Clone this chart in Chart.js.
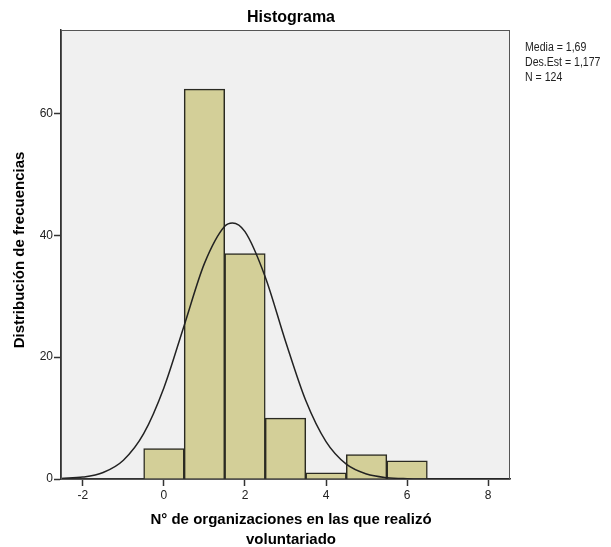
<!DOCTYPE html>
<html>
<head>
<meta charset="utf-8">
<script src="https://cdn.jsdelivr.net/npm/chart.js@4.4.1/dist/chart.umd.min.js"></script>
<style>
html,body{margin:0;padding:0;background:#fff;}
#wrap{width:611px;height:547px;position:relative;}
</style>
</head>
<body>
<div id="wrap"><canvas id="c" width="611" height="547"></canvas></div>
<script>
// Histogram bins (bin centres) and frequencies
const binCenters = [0, 1, 2, 3, 4, 5, 6];
const frequencies = [5, 64, 37, 10, 1, 4, 3];
// Normal curve
const curveX = [-2.54, -2, -1.5, -1, -0.5, 0, 0.5, 1, 1.5, 1.69, 2, 2.5, 3, 3.5, 4, 4.5, 5, 5.5, 6, 6.5, 7, 7.5, 8, 8.54];
const curveY = [0.1, 0.31, 1.07, 3.09, 7.44, 14.99, 25.21, 35.39, 41.49, 42.03, 40.6, 33.17, 22.62, 12.88, 6.13, 2.43, 0.81, 0.22, 0.05, 0.01, 0, 0, 0, 0];
const xTicks = [-2, 0, 2, 4, 6, 8];
const yTicks = [0, 20, 40, 60];
const statsLines = ['Media = 1,69', 'Des.Est = 1,177', 'N = 124'];
const chartTitle = 'Histograma';
const yTitle = 'Distribución de frecuencias';
const xTitle = ['N° de organizaciones en las que realizó', 'voluntariado'];

const textPlugin = {
  id: 'texts',
  beforeDraw(chart) {
    const {ctx, chartArea: a} = chart;
    ctx.save();
    ctx.fillStyle = '#F0F0F0';
    ctx.fillRect(a.left, a.top, a.right - a.left, a.bottom - a.top);
    ctx.restore();
  },
  afterDraw(chart) {
    const {ctx, chartArea: a} = chart;
    ctx.save();
    ctx.strokeStyle = '#555';
    ctx.lineWidth = 1;
    ctx.strokeRect(a.left + 0.5, a.top + 0.5, a.right - a.left - 1, a.bottom - a.top);
    ctx.fillStyle = '#000';
    ctx.textAlign = 'center';
    ctx.textBaseline = 'middle';
    ctx.font = 'bold 16px "Liberation Sans", Arial, sans-serif';
    ctx.fillText(chartTitle, 291, 18);
    ctx.font = 'bold 15px "Liberation Sans", Arial, sans-serif';
    ctx.fillText(xTitle[0], 291, 520);
    ctx.fillText(xTitle[1], 291, 540);
    ctx.save();
    ctx.translate(20, 250);
    ctx.rotate(-Math.PI / 2);
    ctx.fillText(yTitle, 0, 0);
    ctx.restore();
    ctx.textAlign = 'left';
    ctx.fillStyle = '#222';
    ctx.font = '12px "Liberation Sans", Arial, sans-serif';
    ctx.save();
    ctx.translate(525, 0);
    ctx.scale(0.88, 1);
    statsLines.forEach((s, i) => ctx.fillText(s, 0, 48 + i * 15));
    ctx.restore();
    ctx.restore();
  }
};

new Chart(document.getElementById('c'), {
  data: {
    datasets: [
      {
        type: 'line',
        data: curveX.map((x, i) => ({x, y: curveY[i]})),
        borderColor: '#222',
        borderWidth: 1.5,
        pointRadius: 0,
        cubicInterpolationMode: 'monotone',
        fill: false,
        order: 0
      },
      {
        type: 'bar',
        data: binCenters.map((x, i) => ({x, y: frequencies[i]})),
        backgroundColor: '#D3CF98',
        borderColor: '#2a2a22',
        borderWidth: 1.5,
        barPercentage: 1,
        categoryPercentage: 1,
        grouped: false,
        order: 1
      }
    ]
  },
  options: {
    responsive: false,
    animation: false,
    events: [],
    layout: {padding: {left: 0, right: 101, top: 30, bottom: 0}},
    plugins: {legend: {display: false}, tooltip: {enabled: false}, title: {display: false}},
    scales: {
      x: {
        type: 'linear',
        offset: false,
        min: -2.54,
        max: 8.54,
        afterBuildTicks: s => { s.ticks = xTicks.map(v => ({value: v})); },
        afterFit: s => { s.height = 68; },
        grid: {display: true, offset: false, drawOnChartArea: false, drawTicks: true, tickLength: 7, color: '#333', tickWidth: 1.5},
        border: {display: true, color: '#333', width: 1.5},
        ticks: {color: '#222', font: {size: 12, family: '"Liberation Sans", Arial, sans-serif'}, padding: 2, maxRotation: 0}
      },
      y: {
        type: 'linear',
        min: 0,
        max: 73.7,
        afterBuildTicks: s => { s.ticks = yTicks.map(v => ({value: v})); },
        afterFit: s => { s.width = 61; },
        grid: {display: true, drawOnChartArea: false, drawTicks: true, tickLength: 7, color: '#333', tickWidth: 1.5},
        border: {display: true, color: '#333', width: 1.5},
        ticks: {color: '#222', font: {size: 12, family: '"Liberation Sans", Arial, sans-serif'}, padding: 1}
      }
    }
  },
  plugins: [textPlugin]
});
</script>
</body>
</html>
